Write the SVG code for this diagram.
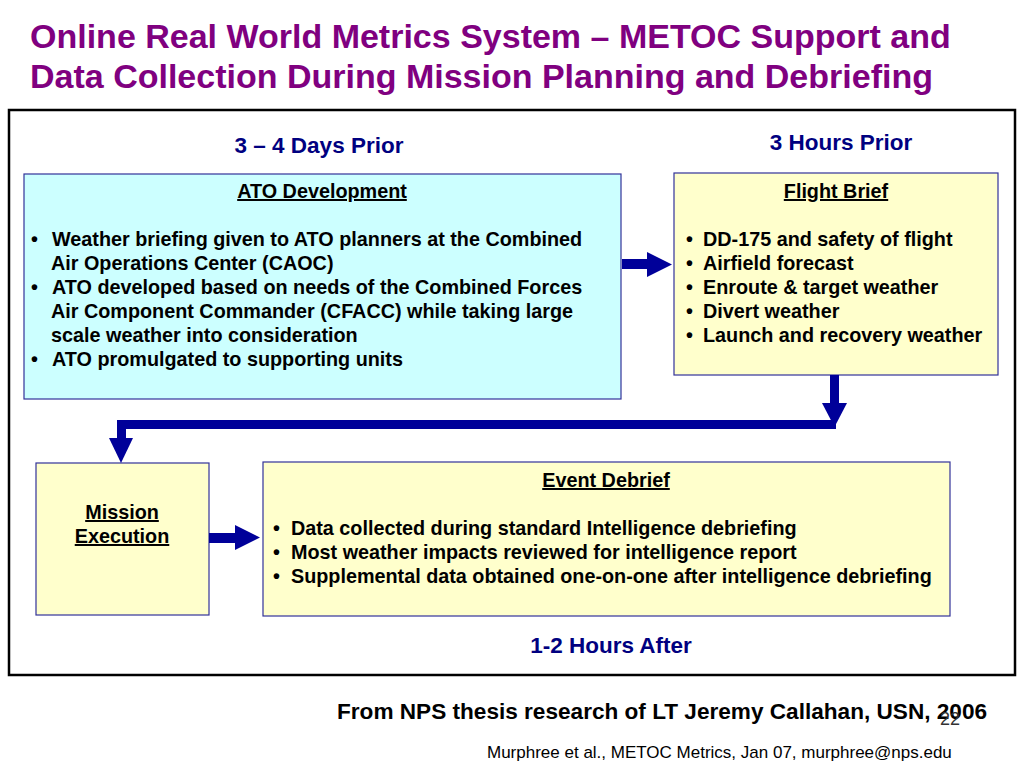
<svg xmlns="http://www.w3.org/2000/svg" width="1024" height="768" viewBox="0 0 1024 768">
<style>
text{font-family:"Liberation Sans",Arial,sans-serif;}
.title{font-size:34px;font-weight:bold;fill:#800080;}
.lbl{font-size:22.5px;font-weight:bold;fill:#000080;text-anchor:middle;}
.t{font-size:19.8px;font-weight:bold;fill:#000;}
.h{font-size:19.8px;font-weight:bold;fill:#000;text-anchor:middle;text-decoration:underline;}
.cyan{fill:#CCFFFF;stroke:#333399;stroke-width:1.2;}
.yel{fill:#FFFFCC;stroke:#333399;stroke-width:1.2;}
.arr{fill:#000099;stroke:none;}
</style>
<rect width="1024" height="768" fill="#fff"/>
<text class="title" x="30" y="48">Online Real World Metrics System – METOC Support and</text>
<text class="title" x="30" y="88">Data Collection During Mission Planning and Debriefing</text>
<rect x="9" y="110" width="1006" height="565" fill="none" stroke="#000" stroke-width="2.5"/>
<text class="lbl" x="319" y="153">3 – 4 Days Prior</text>
<text class="lbl" x="841" y="150">3 Hours Prior</text>
<text class="lbl" x="611" y="653">1-2 Hours After</text>
<g id="ato">
<rect class="cyan" x="24" y="174" width="597" height="225"/>
<text class="h" x="322" y="198">ATO Development</text>
<text class="t" x="31" y="246">•</text><text class="t" x="52" y="246">Weather briefing given to ATO planners at the Combined</text>
<text class="t" x="51" y="270">Air Operations Center (CAOC)</text>
<text class="t" x="31" y="294">•</text><text class="t" x="52" y="294">ATO developed based on needs of the Combined Forces</text>
<text class="t" x="51" y="318">Air Component Commander (CFACC) while taking large</text>
<text class="t" x="51" y="342">scale weather into consideration</text>
<text class="t" x="31" y="366">•</text><text class="t" x="52" y="366">ATO promulgated to supporting units</text>
</g>
<g id="flight-brief">
<rect class="yel" x="674" y="173" width="324" height="202"/>
<text class="h" x="836" y="198">Flight Brief</text>
<text class="t" x="686" y="246">•</text><text class="t" x="703" y="246">DD-175 and safety of flight</text>
<text class="t" x="686" y="270">•</text><text class="t" x="703" y="270">Airfield forecast</text>
<text class="t" x="686" y="294">•</text><text class="t" x="703" y="294">Enroute &amp; target weather</text>
<text class="t" x="686" y="318">•</text><text class="t" x="703" y="318">Divert weather</text>
<text class="t" x="686" y="342">•</text><text class="t" x="703" y="342">Launch and recovery weather</text>
</g>
<g id="mission-execution">
<rect class="yel" x="36" y="463" width="173" height="152"/>
<text class="h" x="122" y="519">Mission</text>
<text class="h" x="122" y="543">Execution</text>
</g>
<g id="event-debrief">
<rect class="yel" x="263" y="462" width="687" height="154"/>
<text class="h" x="606" y="487">Event Debrief</text>
<text class="t" x="273" y="535">•</text><text class="t" x="291" y="535">Data collected during standard Intelligence debriefing</text>
<text class="t" x="273" y="559">•</text><text class="t" x="291" y="559">Most weather impacts reviewed for intelligence report</text>
<text class="t" x="273" y="583">•</text><text class="t" x="291" y="583">Supplemental data obtained one-on-one after intelligence debriefing</text>
</g>
<g id="connectors">
<polygon class="arr" points="622,259 647,259 647,252 672,264.5 647,277 647,269 622,269"/>
<rect class="arr" x="830" y="375" width="9" height="29"/>
<polygon class="arr" points="822,403 847,403 834.5,427"/>
<rect class="arr" x="117" y="420" width="719" height="9"/>
<rect class="arr" x="117" y="420" width="9" height="19"/>
<polygon class="arr" points="109,438 133,438 121,463"/>
<polygon class="arr" points="209,533 235,533 235,525 260,537.5 235,550 235,543 209,543"/>
</g>
<text x="337" y="719" style="font-size:22.6px;font-weight:bold;fill:#000">From NPS thesis research of LT Jeremy Callahan, USN, 2006</text>
<text x="940" y="725" style="font-size:18px;fill:#333">22</text>
<text x="487" y="758" style="font-size:17px;fill:#000">Murphree et al., METOC Metrics, Jan 07, murphree@nps.edu</text>
</svg>
